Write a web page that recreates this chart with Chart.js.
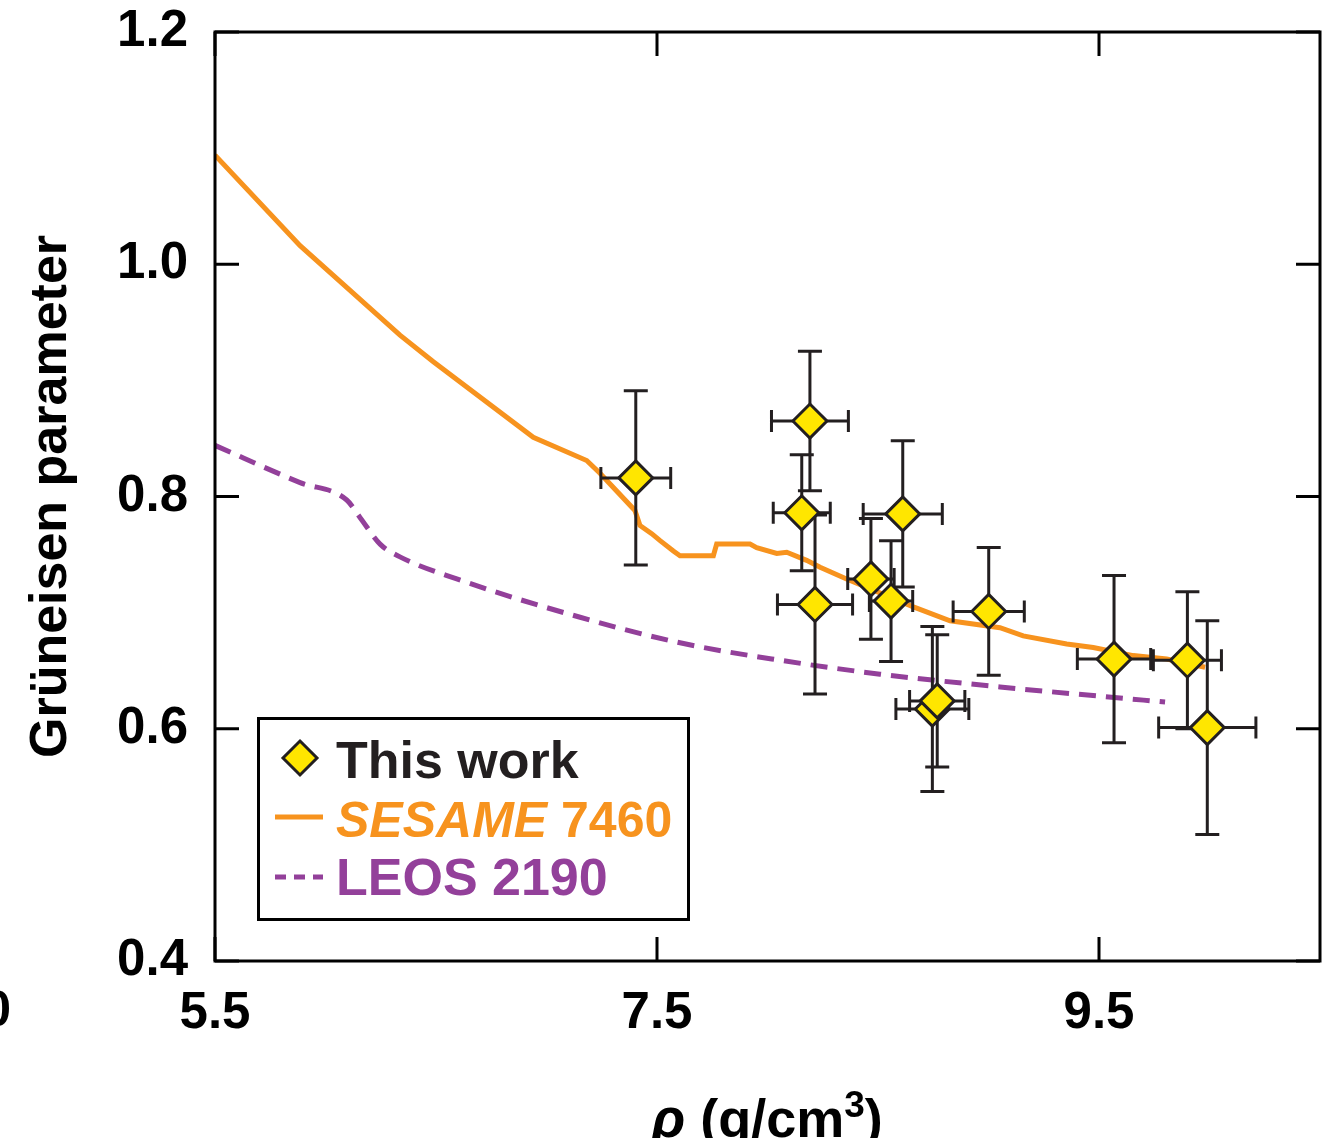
<!DOCTYPE html>
<html>
<head>
<meta charset="utf-8">
<title>Gruneisen parameter</title>
<script src="https://cdn.jsdelivr.net/npm/chart.js@4.4.0/dist/chart.umd.min.js"></script>
<style>
  html, body { margin: 0; padding: 0; background: #fff; }
  canvas { display: block; }
</style>
</head>
<body>
<canvas id="myChart" width="1330" height="1138"></canvas>
<script>
// this work: density, Grüneisen parameter and their error bars
var rho      = [7.404, 8.192, 8.155, 8.215, 8.612, 8.468, 8.559, 8.746, 8.768, 9.001, 9.568, 9.900, 9.990];
var gamma    = [0.816, 0.865, 0.786, 0.707, 0.785, 0.729, 0.710, 0.617, 0.624, 0.701, 0.660, 0.659, 0.601];
var rhoErr   = [0.158, 0.174, 0.129, 0.170, 0.179, 0.105, 0.098, 0.165, 0.125, 0.161, 0.166, 0.154, 0.220];
var gammaErr = [0.075, 0.060, 0.050, 0.077, 0.063, 0.052, 0.052, 0.071, 0.057, 0.055, 0.072, 0.059, 0.092];

// SESAME 7460 model curve
var sesameRho   = [5.500, 5.885, 6.337, 6.488, 6.940, 7.182, 7.242, 7.400, 7.423, 7.476, 7.514, 7.574, 7.604, 7.755, 7.770, 7.921, 7.951, 8.042, 8.087, 8.177, 8.238, 8.358, 8.660, 8.826, 9.052, 9.157, 9.354, 9.474, 9.655, 9.806, 9.980];
var sesameGamma = [1.094, 1.016, 0.939, 0.916, 0.851, 0.831, 0.820, 0.788, 0.775, 0.768, 0.762, 0.753, 0.749, 0.749, 0.759, 0.759, 0.756, 0.751, 0.752, 0.745, 0.739, 0.729, 0.705, 0.693, 0.687, 0.680, 0.673, 0.670, 0.663, 0.660, 0.653];

// LEOS 2190 model curve
var leosRho   = [5.500, 5.885, 6.096, 6.156, 6.247, 6.337, 6.594, 7.152, 7.604, 8.057, 8.509, 9.052, 9.505, 9.799];
var leosGamma = [0.844, 0.812, 0.797, 0.782, 0.759, 0.748, 0.729, 0.696, 0.674, 0.659, 0.647, 0.636, 0.628, 0.623];

var xTicks = [5.5, 7.5, 9.5];
var xTickLabels = ['5.5', '7.5', '9.5'];
var yTicks = [0.4, 0.6, 0.8, 1.0, 1.2];
var yTickLabels = ['0.4', '0.6', '0.8', '1.0', '1.2'];

const FAM = "'Liberation Sans', Arial, Helvetica, sans-serif";
const DARK = '#231F20';
const YELLOW = '#FFE600';
const ORANGE = '#F7931E';
const PURPLE = '#93409A';

function toXY(xs, ys) {
    return xs.map(function(v, i) { return {x: v, y: ys[i]}; });
}

// error bars under the diamonds
const errorBars = {
    id: 'errorBars',
    beforeDatasetDraw(chart, args) {
        if (args.index !== 0) return;
        const xs = chart.scales.x, ys = chart.scales.y, ctx = chart.ctx;
        ctx.save();
        ctx.strokeStyle = DARK;
        ctx.lineWidth = 3;
        for (let i = 0; i < rho.length; i++) {
            const x = xs.getPixelForValue(rho[i]);
            const y = ys.getPixelForValue(gamma[i]);
            const xl = xs.getPixelForValue(rho[i] - rhoErr[i]);
            const xr = xs.getPixelForValue(rho[i] + rhoErr[i]);
            const yt = ys.getPixelForValue(gamma[i] + gammaErr[i]);
            const yb = ys.getPixelForValue(gamma[i] - gammaErr[i]);
            ctx.beginPath();
            ctx.moveTo(x, yt); ctx.lineTo(x, yb);
            ctx.moveTo(x - 12, yt); ctx.lineTo(x + 12, yt);
            ctx.moveTo(x - 12, yb); ctx.lineTo(x + 12, yb);
            ctx.moveTo(xl, y); ctx.lineTo(xr, y);
            ctx.moveTo(xl, y - 11); ctx.lineTo(xl, y + 11);
            ctx.moveTo(xr, y - 11); ctx.lineTo(xr, y + 11);
            ctx.stroke();
        }
        ctx.restore();
    }
};

// box frame with inward ticks on all four sides
const frame = {
    id: 'frame',
    afterDatasetsDraw(chart) {
        const {left, right, top, bottom} = chart.chartArea;
        const xs = chart.scales.x, ys = chart.scales.y, ctx = chart.ctx;
        const tl = 24;
        ctx.save();
        ctx.strokeStyle = '#000';
        ctx.lineWidth = 3;
        ctx.strokeRect(left, top, right - left, bottom - top);
        ctx.beginPath();
        yTicks.forEach(function(v) {
            const y = ys.getPixelForValue(v);
            ctx.moveTo(left, y); ctx.lineTo(left + tl, y);
            ctx.moveTo(right, y); ctx.lineTo(right - tl, y);
        });
        xTicks.forEach(function(v) {
            const x = xs.getPixelForValue(v);
            ctx.moveTo(x, top); ctx.lineTo(x, top + tl);
            ctx.moveTo(x, bottom); ctx.lineTo(x, bottom - tl);
        });
        ctx.stroke();
        ctx.restore();
    }
};

// legend box, x-axis title (italic rho and superscript) and stray label
const extras = {
    id: 'extras',
    afterDraw(chart) {
        const ctx = chart.ctx;
        const ds = chart.data.datasets;
        ctx.save();

        // legend box
        ctx.fillStyle = '#fff';
        ctx.fillRect(258, 718, 430, 201);
        ctx.strokeStyle = '#000';
        ctx.lineWidth = 3;
        ctx.strokeRect(258.5, 718.5, 430, 201);

        ctx.textAlign = 'left';
        ctx.textBaseline = 'alphabetic';

        // This work
        ctx.beginPath();
        ctx.moveTo(300, 741); ctx.lineTo(317, 758); ctx.lineTo(300, 775); ctx.lineTo(283, 758);
        ctx.closePath();
        ctx.fillStyle = YELLOW; ctx.fill();
        ctx.strokeStyle = DARK; ctx.lineWidth = 3; ctx.stroke();
        ctx.fillStyle = DARK;
        ctx.font = 'bold 52px ' + FAM;
        ctx.fillText(ds[0].label, 336, 778);

        // SESAME 7460
        ctx.strokeStyle = ORANGE; ctx.lineWidth = 5;
        ctx.beginPath(); ctx.moveTo(275, 817); ctx.lineTo(323, 817); ctx.stroke();
        const sp = ds[1].label.split(' ');
        ctx.fillStyle = ORANGE;
        ctx.font = 'italic bold 50px ' + FAM;
        ctx.fillText(sp[0], 336, 837);
        const w0 = ctx.measureText(sp[0]).width;
        ctx.font = 'bold 50px ' + FAM;
        ctx.fillText(' ' + sp[1], 336 + w0, 837);

        // LEOS 2190
        ctx.strokeStyle = PURPLE; ctx.lineWidth = 5;
        ctx.setLineDash([11, 8]);
        ctx.beginPath(); ctx.moveTo(275, 877); ctx.lineTo(323, 877); ctx.stroke();
        ctx.setLineDash([]);
        ctx.fillStyle = PURPLE;
        ctx.font = 'bold 52px ' + FAM;
        ctx.fillText(ds[2].label, 336, 895);

        // x axis title: rho (g/cm^3)
        const parts = [
            {t: '\u03C1', f: 'italic bold 56px ' + FAM, dy: 0},
            {t: ' (g/cm', f: 'bold 54px ' + FAM, dy: 0},
            {t: '3', f: 'bold 37px ' + FAM, dy: -20},
            {t: ')', f: 'bold 54px ' + FAM, dy: 0}
        ];
        let total = 0;
        parts.forEach(function(p) { ctx.font = p.f; p.w = ctx.measureText(p.t).width; total += p.w; });
        let x = 767 - total / 2;
        ctx.fillStyle = '#000';
        parts.forEach(function(p) {
            ctx.font = p.f;
            ctx.fillText(p.t, x, 1137 + p.dy);
            x += p.w;
        });

        // cut-off label at the far left
        ctx.font = 'bold 50px ' + FAM;
        ctx.textAlign = 'right';
        ctx.textBaseline = 'middle';
        ctx.fillText('0', 11, 1012);

        ctx.restore();
    }
};

const ctx = document.getElementById('myChart').getContext('2d');
const myChart = new Chart(ctx, {
    type: 'scatter',
    data: {
        datasets: [
            {
                label: 'This work',
                data: toXY(rho, gamma),
                pointStyle: 'rectRot',
                pointRadius: 17,
                pointHoverRadius: 17,
                backgroundColor: YELLOW,
                borderColor: DARK,
                borderWidth: 3,
                showLine: false
            },
            {
                type: 'line',
                label: 'SESAME 7460',
                data: toXY(sesameRho, sesameGamma),
                borderColor: ORANGE,
                borderWidth: 5,
                pointRadius: 0,
                fill: false,
                tension: 0
            },
            {
                type: 'line',
                label: 'LEOS 2190',
                data: toXY(leosRho, leosGamma),
                borderColor: PURPLE,
                borderWidth: 5,
                borderDash: [17, 10],
                pointRadius: 0,
                fill: false,
                cubicInterpolationMode: 'monotone'
            }
        ]
    },
    options: {
        responsive: false,
        animation: false,
        events: [],
        layout: { autoPadding: false, padding: { top: 32, right: 10, left: 0, bottom: 0 } },
        plugins: {
            legend: { display: false },
            tooltip: { enabled: false }
        },
        scales: {
            x: {
                type: 'linear',
                min: 5.5,
                max: 10.5,
                afterBuildTicks: function(s) { s.ticks = xTicks.map(function(v) { return {value: v}; }); },
                afterFit: function(s) { s.height = 177; s.paddingLeft = 0; s.paddingRight = 0; },
                grid: { display: false, drawTicks: false },
                border: { display: false },
                ticks: {
                    autoSkip: false,
                    maxRotation: 0,
                    padding: 27,
                    color: '#000',
                    font: { family: FAM, size: 51, weight: 'bold', lineHeight: 1 },
                    callback: function(v, i) { return xTickLabels[i]; }
                }
            },
            y: {
                type: 'linear',
                min: 0.4,
                max: 1.2,
                afterBuildTicks: function(s) { s.ticks = yTicks.map(function(v) { return {value: v}; }); },
                afterFit: function(s) { s.width = 215; s.paddingTop = 0; s.paddingBottom = 0; },
                grid: { display: false, drawTicks: false },
                border: { display: false },
                ticks: {
                    autoSkip: false,
                    padding: 27,
                    color: '#000',
                    font: { family: FAM, size: 51, weight: 'bold', lineHeight: 1 },
                    callback: function(v, i) { return yTickLabels[i]; }
                },
                title: {
                    display: true,
                    text: 'Grüneisen parameter',
                    color: '#000',
                    font: { family: FAM, size: 52, weight: 'bold' },
                    padding: { top: 20, bottom: 0 }
                }
            }
        }
    },
    plugins: [errorBars, frame, extras]
});
</script>
</body>
</html>
